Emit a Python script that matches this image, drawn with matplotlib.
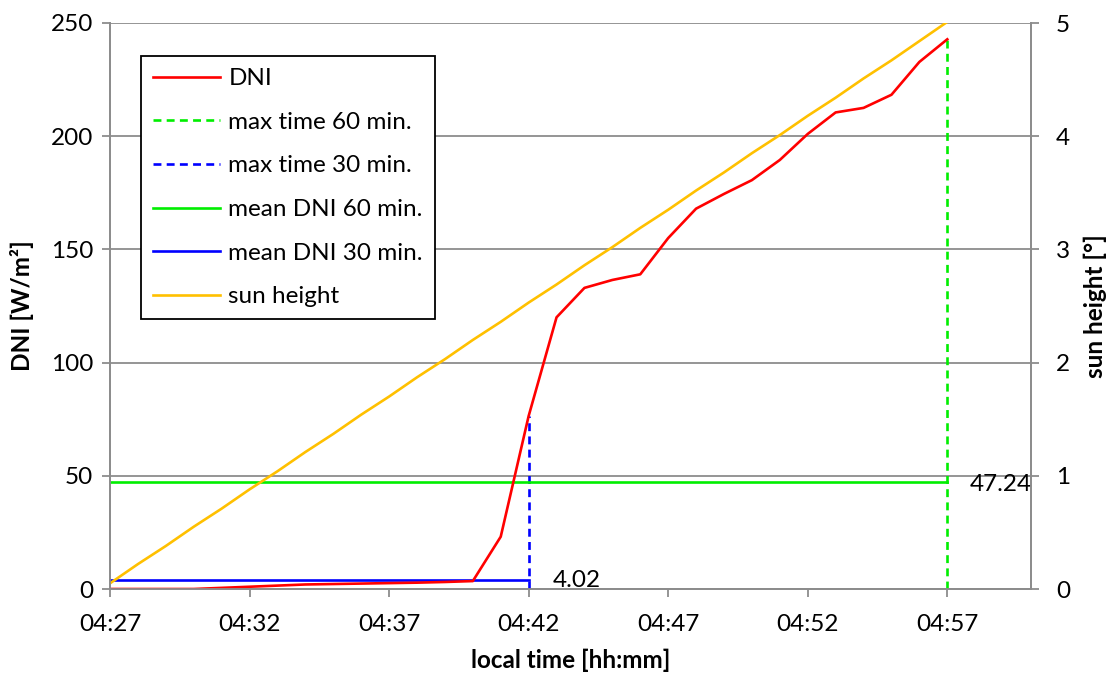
import matplotlib
matplotlib.use("Agg")
import matplotlib.pyplot as plt
import matplotlib.dates as mdates
import pandas as pd

plt.rcParams["font.family"] = ["Lato", "DejaVu Sans"]

# minute values 04:27 .. 04:57
times = ["04:27", "04:28", "04:29", "04:30", "04:31", "04:32", "04:33", "04:34",
         "04:35", "04:36", "04:37", "04:38", "04:39", "04:40", "04:41", "04:42",
         "04:43", "04:44", "04:45", "04:46", "04:47", "04:48", "04:49", "04:50",
         "04:51", "04:52", "04:53", "04:54", "04:55", "04:56", "04:57"]
dni = [0.0, 0.0, 0.0, 0.0, 0.5, 1.0, 1.5, 2.0, 2.2, 2.4, 2.6, 2.8, 3.1, 3.5,
       23.1, 76.4, 120.0, 133.0, 136.5, 139.0, 155.0, 168.0, 174.5, 180.6,
       189.5, 201.0, 210.5, 212.5, 218.3, 232.8, 242.8]
sun_height = [0.05, 0.22, 0.38, 0.55, 0.71, 0.88, 1.04, 1.21, 1.37, 1.54, 1.70,
              1.87, 2.03, 2.20, 2.36, 2.53, 2.69, 2.86, 3.02, 3.19, 3.35, 3.52,
              3.68, 3.85, 4.01, 4.18, 4.34, 4.51, 4.67, 4.84, 5.01]

mean_60 = 47.24
mean_30 = 4.02
end_60 = "04:57"
end_30 = "04:42"
x_ticks = ["04:27", "04:32", "04:37", "04:42", "04:47", "04:52", "04:57"]
x_range = ["04:27", "05:00"]

day = "2000-01-01 "
t = pd.to_datetime([day + s for s in times])
t_end60 = pd.to_datetime(day + end_60)
t_end30 = pd.to_datetime(day + end_30)
t_start = t[0]
dni_s = pd.Series(dni, index=t)

grid_c = "#8c8c8c"
fs = 17.5
fig = plt.figure(figsize=(11.11, 6.76), dpi=100)
ax = fig.add_axes([110 / 1111, 1 - 589 / 676, 921 / 1111, 566 / 676])
ax2 = ax.twinx()

ax.plot(t, dni, color="#ff0000", lw=1.9, label="DNI", zorder=5)
ax.plot([t_end60, t_end60], [0, dni_s[t_end60]], color="#00ee00", lw=1.9,
        ls=(0, (3, 2)), label="max time 60 min.", zorder=4)
ax.plot([t_end30, t_end30], [0, dni_s[t_end30]], color="#0000ff", lw=1.9,
        ls=(0, (3, 2)), label="max time 30 min.", zorder=4)
ax.plot([t_start, t_end60], [mean_60, mean_60], color="#00ee00", lw=1.9,
        label="mean DNI 60 min.", zorder=4)
ax.plot([t_start, t_end30], [mean_30, mean_30], color="#0000ff", lw=1.9,
        label="mean DNI 30 min.", zorder=4)
sun_line, = ax2.plot(t, sun_height, color="#ffc000", lw=1.9, label="sun height")

ax.annotate(f"{mean_30:.2f}", (t_end30, mean_30), xytext=(24, -1),
            textcoords="offset pixels", ha="left", va="center", fontsize=fs)
ax.annotate(f"{mean_60:.2f}", (t_end60, mean_60), xytext=(22, -2),
            textcoords="offset pixels", ha="left", va="center", fontsize=fs)

ax.set_xlim(pd.to_datetime(day + x_range[0]), pd.to_datetime(day + x_range[1]))
ax.set_ylim(0, 250)
ax2.set_ylim(0, 5)
ax.set_xticks(pd.to_datetime([day + s for s in x_ticks]))
ax.xaxis.set_major_formatter(mdates.DateFormatter("%H:%M"))
ax.set_yticks(range(0, 251, 50))
ax2.set_yticks(range(0, 6))

ax.yaxis.grid(True, color=grid_c, lw=1.3)
ax.set_axisbelow(True)
for a in (ax, ax2):
    a.spines["top"].set_visible(False)
    for side in ("left", "right", "bottom"):
        a.spines[side].set_color(grid_c)
        a.spines[side].set_linewidth(1.3)
    a.tick_params(colors=grid_c, labelcolor="black", labelsize=fs, length=6, width=1.3)
ax.tick_params(axis="x", pad=12)
ax.tick_params(axis="y", pad=6)
ax2.tick_params(axis="y", pad=12)

ax.set_xlabel("local time [hh:mm]", fontsize=fs, fontweight="bold", labelpad=10)
ax.set_ylabel("DNI [W/m²]", fontsize=fs, fontweight="bold", labelpad=12)
ax2.set_ylabel("sun height [°]", fontsize=fs, fontweight="bold", labelpad=10)

handles, labels = ax.get_legend_handles_labels()
handles.append(sun_line)
labels.append("sun height")
leg = ax2.legend(handles, labels, loc="upper left", bbox_to_anchor=(31 / 921, 1 - 33 / 566),
                 fontsize=fs, frameon=True, fancybox=False, edgecolor="black",
                 framealpha=1, handlelength=2.75, handletextpad=0.35,
                 labelspacing=0.93, borderpad=0.5, borderaxespad=0)
leg.get_frame().set_linewidth(1.3)

fig.savefig("out.png", dpi=100)
